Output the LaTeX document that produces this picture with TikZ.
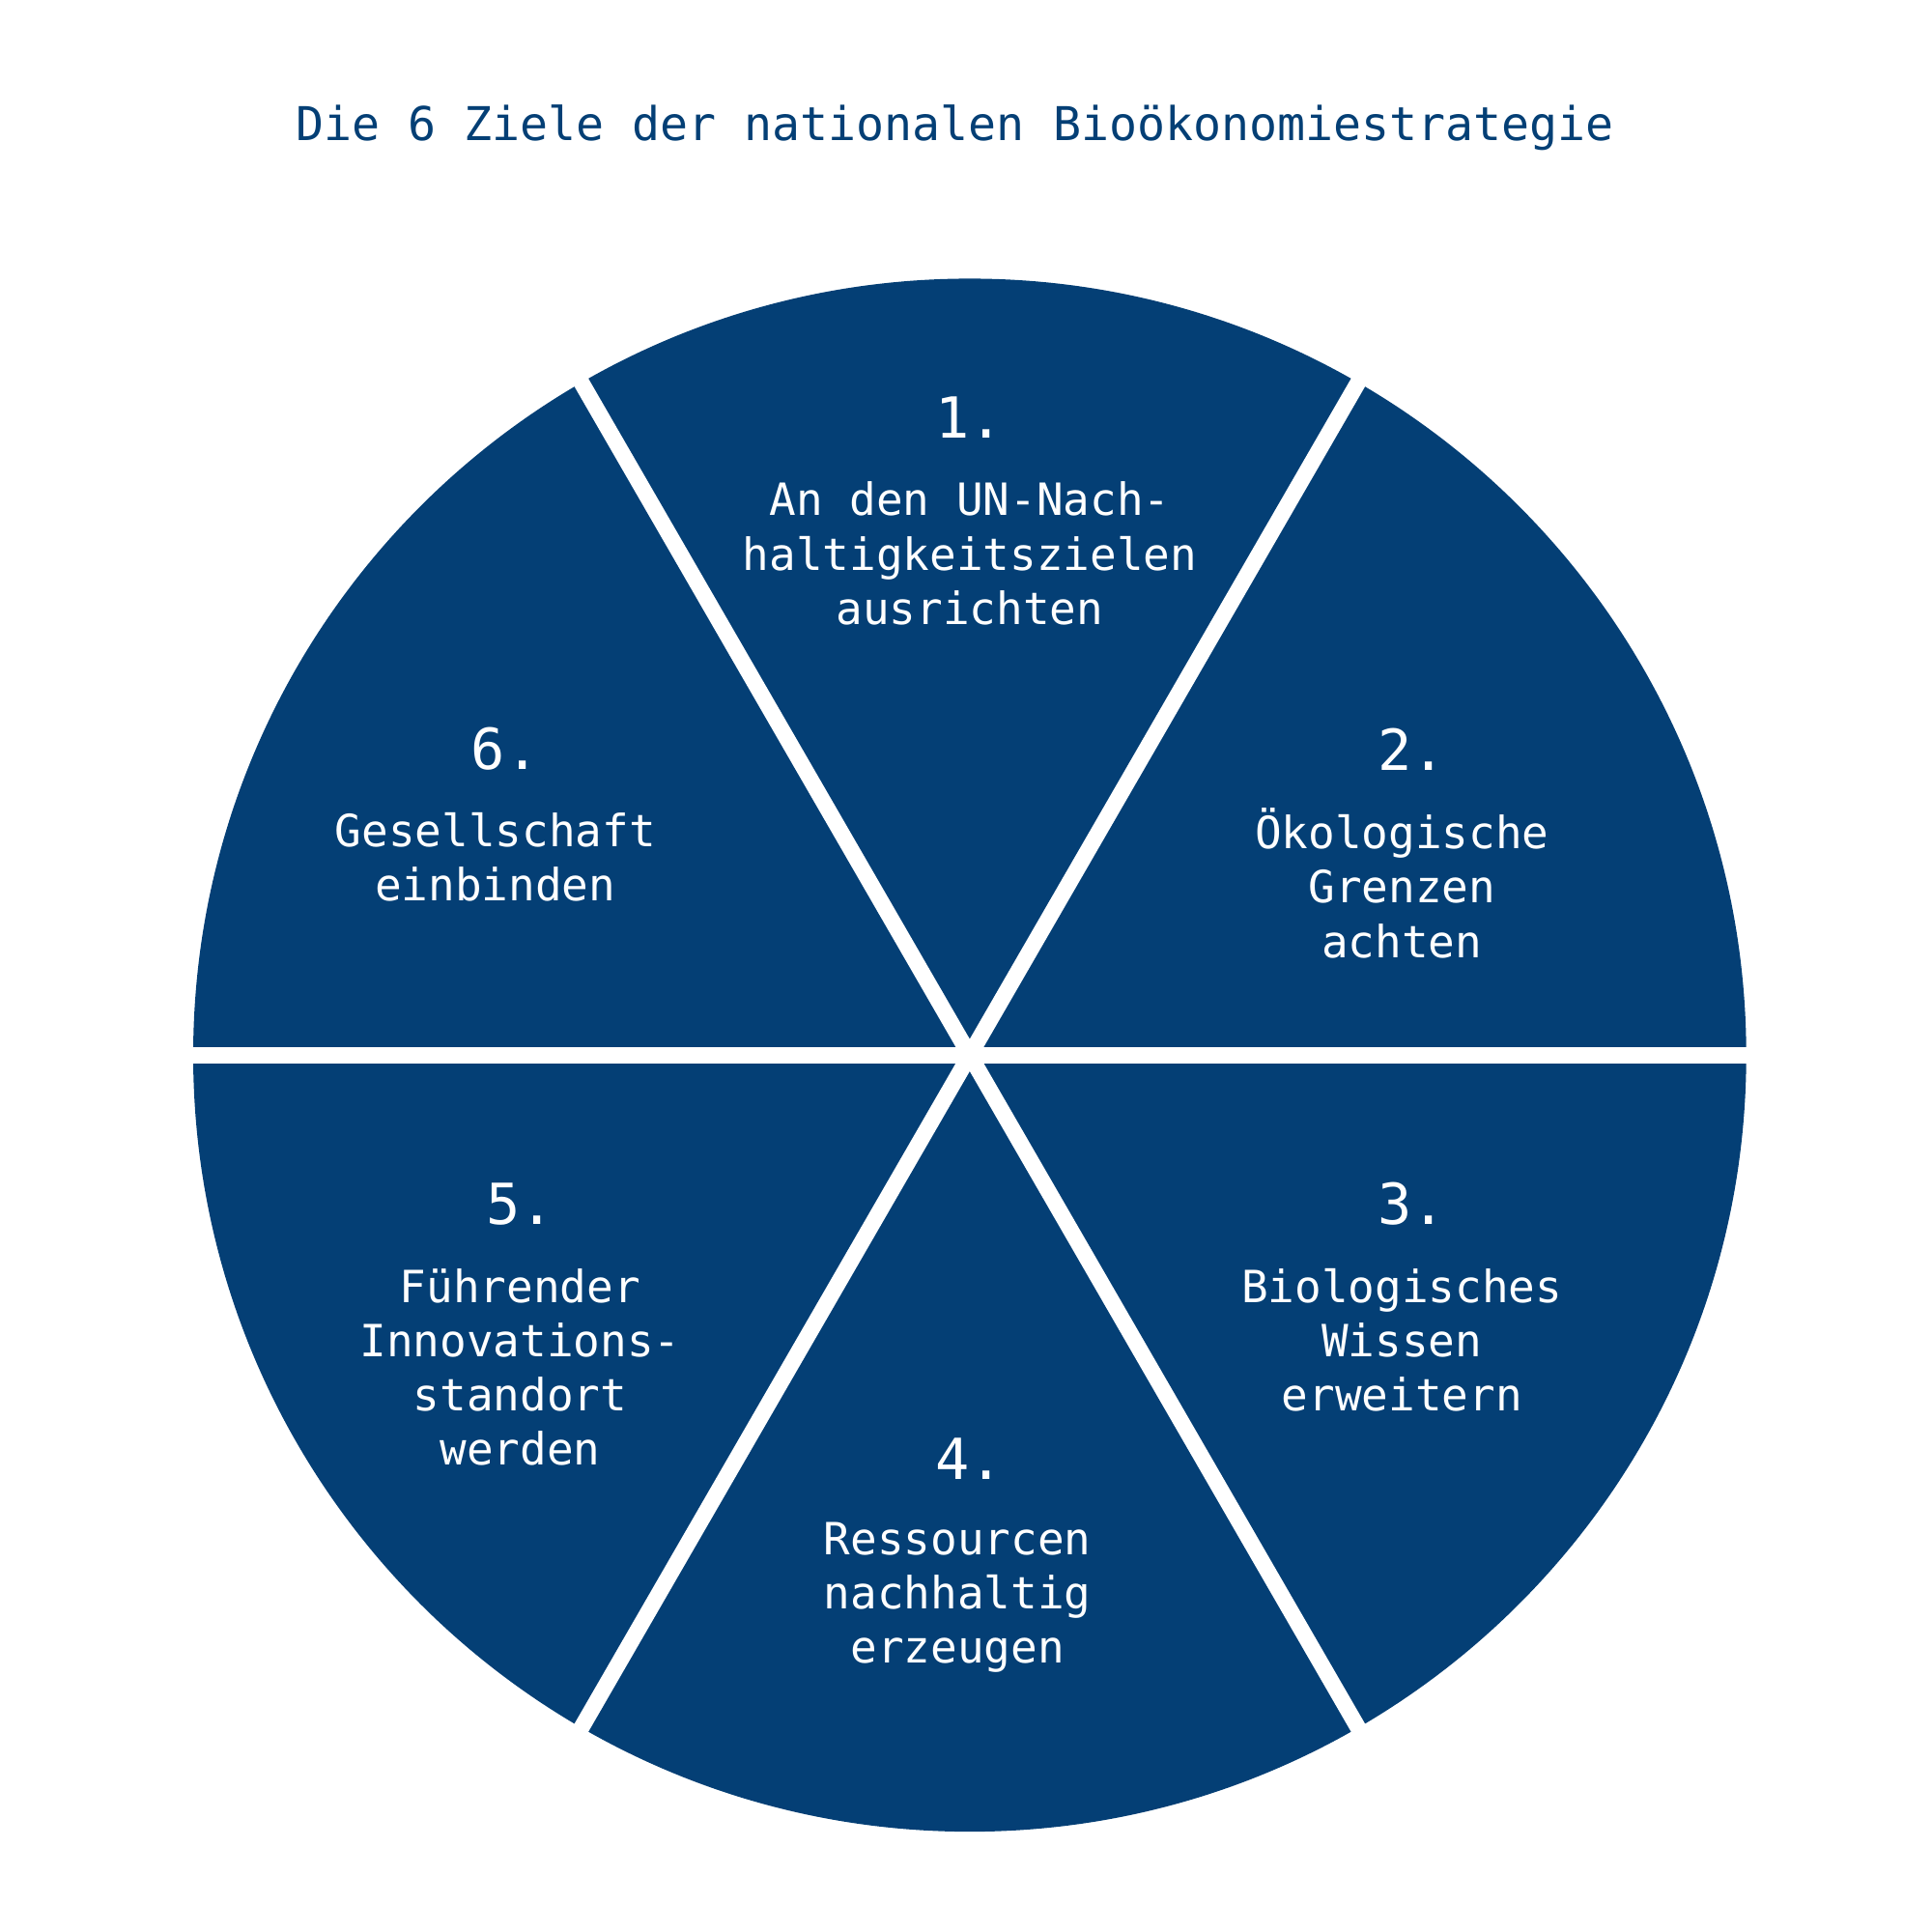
\documentclass[tikz,border=0pt]{standalone}
\usepackage{fontspec}
\setmonofont{DejaVu Sans Mono}
\usetikzlibrary{calc}
\definecolor{bioblue}{HTML}{043F75}
\tikzset{
  num/.style={text=white, font=\ttfamily\fontsize{13}{15}\selectfont},
  goal/.style={text=white, align=center, font=\ttfamily\fontsize{10.2}{12.5}\selectfont},
  cut/.style={draw=white, line width=0.13cm}
}
\begin{document}
\begin{tikzpicture}
\useasboundingbox (0,0) rectangle (15.6,15.6);
\coordinate (M) at (7.83,7.08);
\node[text=bioblue, font=\ttfamily\fontsize{10.7}{13}\selectfont] (title) at (7.71,14.57) {Die 6 Ziele der nationalen Bioökonomiestrategie};
\fill[bioblue] (M) circle (6.27);
% white gaps between the six sectors
\foreach \a in {0,60,120} {
  \coordinate (P\a) at ($(M)+(\a:6.4)$);
  \coordinate (Q\a) at ($(M)+(\a+180:6.4)$);
  \draw[cut] (P\a) -- (Q\a);
}
\node[num] (n1) at (7.83,12.23) {1.};
\node[goal] (g1) at (7.83,11.13) {An den UN-Nach-\\haltigkeitszielen\\ausrichten};
\node[num] (n2) at (11.4,9.55) {2.};
\node[goal] (g2) at (11.32,8.47) {Ökologische\\Grenzen\\achten};
\node[num] (n3) at (11.4,5.88) {3.};
\node[goal] (g3) at (11.32,4.78) {Biologisches\\Wissen\\erweitern};
\node[num] (n4) at (7.83,3.82) {4.};
\node[goal] (g4) at (7.73,2.70) {Ressourcen\\nachhaltig\\erzeugen};
\node[num] (n5) at (4.2,5.88) {5.};
\node[goal] (g5) at (4.2,4.56) {Führender\\Innovations-\\standort\\werden};
\node[num] (n6) at (4.08,9.55) {6.};
\node[goal] (g6) at (4.0,8.68) {Gesellschaft\\einbinden};
\end{tikzpicture}
\end{document}
